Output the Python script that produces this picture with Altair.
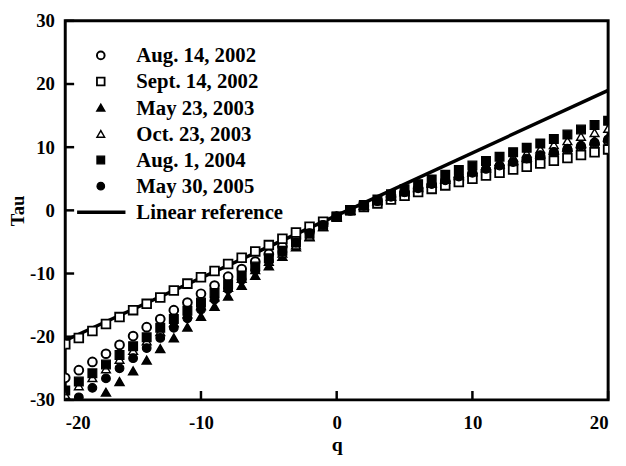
import altair as alt
import pandas as pd

q_values = list(range(-20, 21))

series_names = ["Aug. 14, 2002", "Sept. 14, 2002", "May 23, 2003",
                "Oct. 23, 2003", "Aug. 1, 2004", "May 30, 2005"]

tau_aug_2002 = [-26.5, -25.3, -24.0, -22.7, -21.3, -19.9, -18.5, -17.2, -15.8, -14.6, -13.2,
                -11.9, -10.5, -9.3, -8.1, -6.9, -5.7, -4.5, -3.3, -2.1, -1.0,
                0.0, 0.7, 1.4, 2.1, 2.75, 3.4, 4.0, 4.6, 5.2, 5.8,
                6.35, 6.9, 7.45, 8.0, 8.5, 9.0, 9.5, 10.0, 10.5, 11.0]
tau_sep_2002 = [-21.2, -20.2, -19.1, -18.0, -16.9, -15.8, -14.8, -13.8, -12.7, -11.6, -10.6,
                -9.6, -8.5, -7.5, -6.5, -5.5, -4.5, -3.5, -2.6, -1.8, -1.0,
                0.0, 0.55, 1.1, 1.7, 2.3, 2.9, 3.4, 3.95, 4.5, 5.0,
                5.5, 5.95, 6.45, 6.9, 7.4, 7.85, 8.3, 8.75, 9.2, 9.65]
tau_may_2003 = [-34.6, -32.8, -31.0, -28.8, -27.1, -25.4, -23.7, -21.9, -20.2, -18.5, -16.8,
                -15.2, -13.6, -11.9, -10.3, -8.8, -7.3, -5.8, -4.2, -2.6, -1.0,
                0.0, 0.75, 1.5, 2.2, 2.9, 3.6, 4.25, 4.9, 5.5, 6.1,
                6.7, 7.3, 7.85, 8.4, 8.95, 9.5, 10.0, 10.55, 11.05, 11.6]
tau_oct_2003 = [-29.2, -27.8, -26.5, -25.1, -23.6, -22.2, -20.7, -19.2, -17.8, -16.4, -15.1,
                -13.7, -12.2, -10.8, -9.4, -8.1, -6.8, -5.5, -4.1, -2.6, -1.0,
                0.0, 0.8, 1.55, 2.3, 3.05, 3.75, 4.45, 5.15, 5.8, 6.45,
                7.1, 7.75, 8.4, 9.05, 9.7, 10.4, 11.0, 11.7, 12.3, 12.95]
tau_aug_2004 = [-28.5, -27.1, -25.8, -24.4, -22.9, -21.5, -20.1, -18.6, -17.2, -15.9, -14.6,
                -13.1, -11.7, -10.3, -8.9, -7.6, -6.4, -5.1, -3.7, -2.4, -1.0,
                0.0, 0.85, 1.7, 2.55, 3.35, 4.15, 4.9, 5.65, 6.4, 7.1,
                7.8, 8.5, 9.2, 9.9, 10.6, 11.3, 12.0, 12.8, 13.5, 14.2]
tau_may_2005 = [-31.1, -29.6, -28.1, -26.6, -25.0, -23.4, -21.8, -20.2, -18.6, -17.1, -15.7,
                -14.1, -12.5, -11.0, -9.5, -8.0, -6.6, -5.1, -3.6, -2.3, -1.0,
                0.0, 0.72, 1.45, 2.15, 2.85, 3.5, 4.15, 4.75, 5.35, 5.95,
                6.55, 7.1, 7.65, 8.2, 8.75, 9.25, 9.75, 10.25, 10.75, 11.25]

line_label = "Linear reference"
line_q = [-20, 20]
line_tau = [-20.6, 19.0]

x_ticks = [-20, -10, 0, 10, 20]
y_ticks = [-30, -20, -10, 0, 10, 20, 30]

all_series = [tau_aug_2002, tau_sep_2002, tau_may_2003,
              tau_oct_2003, tau_aug_2004, tau_may_2005]
rows = []
for order, (name, vals) in enumerate(zip(series_names, all_series)):
    for qq, tt in zip(q_values, vals):
        rows.append({"q": qq, "tau": tt, "series": name, "order": order})
points_df = pd.DataFrame(rows)
line_df = pd.DataFrame({"q": line_q, "tau": line_tau})
xt_df = pd.DataFrame({"t": x_ticks})
yt_df = pd.DataFrame({"t": y_ticks})
legend_pts_df = pd.DataFrame({"series": series_names, "row": list(range(len(series_names)))})
legend_line_df = pd.DataFrame({"series": [line_label], "row": [len(series_names)]})
legend_text_df = pd.concat([legend_pts_df, legend_line_df], ignore_index=True)

W, H = 550, 384
FONT = "Liberation Serif"

xscale = alt.Scale(domain=[-20, 20], nice=False, zero=False)
yscale = alt.Scale(domain=[-30, 30], nice=False, zero=False)
row_scale = alt.Scale(domain=[0, 6], range=[35, 194], nice=False, zero=False)

xaxis = alt.Axis(values=x_ticks, title="q", grid=False, ticks=False, domain=False,
                 labelPadding=14, titlePadding=2, labelExpr="'' + datum.value")
yaxis = alt.Axis(values=y_ticks, title="Tau", grid=False, ticks=False, domain=False,
                 labelPadding=11, titlePadding=2, titleFontSize=19,
                 labelExpr="'' + datum.value")

shape_range = ["circle", "square", "triangle-up", "triangle-up", "square", "circle"]
fill_range = ["white", "white", "black", "white", "black", "black"]
stroke_w_range = [2.0, 1.1, 1.1, 1.1, 1.1, 1.1]
shape_scale = alt.Scale(domain=series_names, range=shape_range)
fill_scale = alt.Scale(domain=series_names, range=fill_range)
sw_scale = alt.Scale(domain=series_names, range=stroke_w_range)

xticks = alt.Chart(xt_df).mark_rule(color="black", strokeWidth=2.5).encode(
    x=alt.X("t:Q", scale=xscale, axis=xaxis),
    y=alt.value(H), y2=alt.value(H - 9),
)
yticks = alt.Chart(yt_df).mark_rule(color="black", strokeWidth=2.5).encode(
    y=alt.Y("t:Q", scale=yscale, axis=yaxis),
    x=alt.value(0), x2=alt.value(9),
)

line = alt.Chart(line_df).mark_line(strokeWidth=3.5, clip=True, color="black").encode(
    x=alt.X("q:Q", scale=xscale, axis=xaxis),
    y=alt.Y("tau:Q", scale=yscale, axis=None),
)

points = alt.Chart(points_df).mark_point(
    clip=True, opacity=1, size=78, stroke="black"
).encode(
    x=alt.X("q:Q", scale=xscale, axis=xaxis),
    y=alt.Y("tau:Q", scale=yscale, axis=None),
    shape=alt.Shape("series:N", scale=shape_scale, legend=None),
    fill=alt.Fill("series:N", scale=fill_scale, legend=None),
    strokeWidth=alt.StrokeWidth("series:N", scale=sw_scale, legend=None),
    order=alt.Order("order:Q"),
)

# legend, drawn from its own small tables
leg_symbols = alt.Chart(legend_pts_df).mark_point(opacity=1, size=60, stroke="black").encode(
    x=alt.value(36),
    y=alt.Y("row:Q", scale=row_scale, axis=None),
    shape=alt.Shape("series:N", scale=shape_scale, legend=None),
    fill=alt.Fill("series:N", scale=fill_scale, legend=None),
    strokeWidth=alt.StrokeWidth("series:N", scale=sw_scale, legend=None),
)
leg_line = alt.Chart(legend_line_df).mark_rule(color="black", strokeWidth=3.5).encode(
    x=alt.value(12), x2=alt.value(61),
    y=alt.Y("row:Q", scale=row_scale, axis=None),
)
leg_text = alt.Chart(legend_text_df).mark_text(
    align="left", baseline="middle", font=FONT, fontWeight="bold", fontSize=21,
    color="black", dy=1
).encode(
    x=alt.value(72),
    y=alt.Y("row:Q", scale=row_scale, axis=None),
    text="series:N",
)

chart = alt.layer(yticks, xticks, line, points, leg_symbols, leg_line, leg_text).resolve_scale(
    y="independent"
).properties(
    width=W, height=H,
    autosize=alt.AutoSizeParams(type="none"),
    padding={"left": 58, "top": 10, "right": 10, "bottom": 64},
).configure_view(
    stroke="black", strokeWidth=3
).configure_axis(
    labelFont=FONT, labelFontWeight="bold", labelFontSize=19, labelColor="black",
    titleFont=FONT, titleFontWeight="bold", titleFontSize=20, titleColor="black",
)

chart.save("out.html", embed_options={"renderer": "svg", "actions": False})
